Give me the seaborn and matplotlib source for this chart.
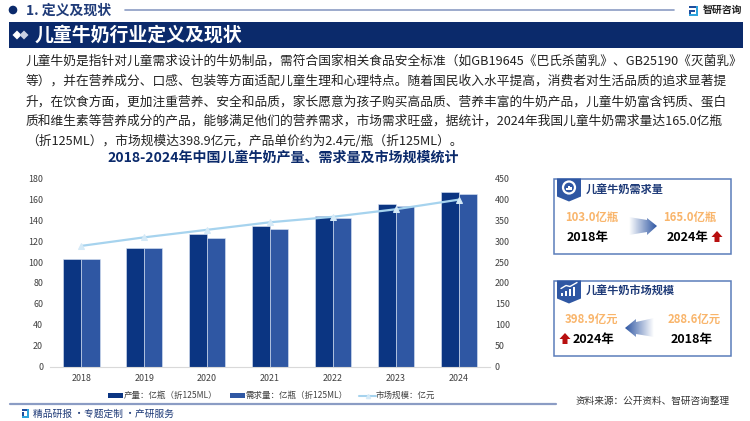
import numpy as np
import pandas as pd
import matplotlib
matplotlib.use("Agg")
import matplotlib.pyplot as plt
from matplotlib.patches import Rectangle, Polygon, Circle
from matplotlib.colors import LinearSegmentedColormap
import seaborn as sns

years = ["2018", "2019", "2020", "2021", "2022", "2023", "2024"]
production = [103, 113, 126.5, 134.5, 144, 155.5, 167]
demand = [103, 113, 122.5, 132, 142, 153.5, 165]
market = [288.6, 309, 327, 345, 358, 376, 398.9]
left_ticks = [0, 20, 40, 60, 80, 100, 120, 140, 160, 180]
right_ticks = [0, 50, 100, 150, 200, 250, 300, 350, 400, 450]
s_prod = "产量：亿瓶（折125ML）"
s_dem = "需求量：亿瓶（折125ML）"
s_mkt = "市场规模：亿元"
para = [
    "儿童牛奶是指针对儿童需求设计的牛奶制品，需符合国家相关食品安全标准（如GB19645《巴氏杀菌乳》、GB25190《灭菌乳》",
    "等），并在营养成分、口感、包装等方面适配儿童生理和心理特点。随着国民收入水平提高，消费者对生活品质的追求显著提",
    "升，在饮食方面，更加注重营养、安全和品质，家长愿意为孩子购买高品质、营养丰富的牛奶产品，儿童牛奶富含钙质、蛋白",
    "质和维生素等营养成分的产品，能够满足他们的营养需求，市场需求旺盛，据统计，2024年我国儿童牛奶需求量达165.0亿瓶",
    "（折125ML），市场规模达398.9亿元，产品单价约为2.4元/瓶（折125ML）。",
]

sns.set_theme(style="white")
plt.rcParams["font.family"] = ["Noto Sans CJK SC", "DejaVu Sans"]
plt.rcParams["axes.unicode_minus"] = False

W, H = 750, 421
fig = plt.figure(figsize=(7.5, 4.21), dpi=100, facecolor="white")

# overlay in pixel coordinates
ov = fig.add_axes([0, 0, 1, 1], zorder=0)
ov.set_xlim(0, W); ov.set_ylim(H, 0); ov.axis("off")

NAVY = "#0B2A6B"
C1 = "#0B3582"
C2 = "#2F57A3"
LINE = "#A6D3EE"
ORANGE = "#F9B56B"

# header
ov.add_patch(Circle((13, 10), 3.6, color=NAVY))
ov.text(26, 10.5, "1. 定义及现状", fontsize=10, fontweight="bold", color="#1F3B78", va="center")
ov.plot([125, 674], [10, 10], color="#8B9CC4", lw=1.2)
ov.add_patch(Rectangle((9, 22), 734, 26, color=NAVY, lw=0))
for cx, col in ((17, "white"), (24, "#C9D1E4")):
    ov.add_patch(Polygon([(cx - 4.5, 35), (cx, 30.5), (cx + 4.5, 35), (cx, 39.5)], color=col, lw=0))
ov.text(35, 35, "儿童牛奶行业定义及现状", fontsize=13.6, fontweight="bold", color="white", va="center")
# logo
ov.add_patch(Rectangle((689, 6), 9, 2, color="#1F4E9E", lw=0))
ov.add_patch(Rectangle((689, 10), 6, 2, color="#1F4E9E", lw=0))
ov.add_patch(Rectangle((689, 10), 2, 6, color="#1F4E9E", lw=0))
ov.add_patch(Rectangle((696, 6), 2, 10, color="#2EA3DC", lw=0))
ov.add_patch(Rectangle((689, 14), 9, 2, color="#2EA3DC", lw=0))
ov.text(703, 10, "智研咨询", fontsize=7.1, fontweight="bold", color="#222222", va="center")

# paragraph
for i, line in enumerate(para):
    ov.text(26, 61.5 + i * 20, line, fontsize=9.15, color="#222222", va="center")

ov.text(283, 158, "2018-2024年中国儿童牛奶产量、需求量及市场规模统计", fontsize=10.1,
        fontweight="bold", color=NAVY, va="center", ha="center")

# chart
x0, x1, ytop, ybot = 50, 490, 178.3, 366.7
ax = fig.add_axes([x0 / W, 1 - ybot / H, (x1 - x0) / W, (ybot - ytop) / H], zorder=2)
ax.patch.set_alpha(0)
df = pd.DataFrame({
    "year": years * 2,
    "value": production + demand,
    "series": [s_prod] * len(years) + [s_dem] * len(years),
})
sns.barplot(data=df, x="year", y="value", hue="series", hue_order=[s_prod, s_dem],
            palette=[C1, C2], width=0.575, gap=0, dodge=True, saturation=1,
            ax=ax, legend=False, edgecolor="#DCE6F5", linewidth=0.4)
ax.set_xlim(-0.5, 6.5)
ax.set_ylim(0, 180)
ax.set_yticks(left_ticks)
ax.set_xlabel(""); ax.set_ylabel("")
ax.tick_params(axis="both", length=0, labelsize=6.4, labelcolor="#404040")
ax.tick_params(axis="x", pad=5)
ax.tick_params(axis="y", pad=5)
for s in ("top", "left", "right"):
    ax.spines[s].set_visible(False)
ax.spines["bottom"].set_color("#D9D9D9")
ax.spines["bottom"].set_linewidth(0.8)

ax2 = ax.twinx()
sns.lineplot(x=list(range(len(years))), y=market, ax=ax2, color=LINE, lw=1.6,
             marker="^", markersize=5, markeredgecolor="#D5EAF7", markerfacecolor="#D5EAF7",
             legend=False, errorbar=None)
ax2.set_ylim(0, 450)
ax2.set_yticks(right_ticks)
ax2.set_ylabel("")
ax2.tick_params(axis="y", length=0, labelsize=6.4, labelcolor="#404040", pad=3.5)
for s in ("top", "left", "right", "bottom"):
    ax2.spines[s].set_visible(False)

# legend
ly = 395.5
ov.add_patch(Rectangle((108, ly - 2.5), 15, 5, color=C1, lw=0))
ov.text(124, ly, s_prod, fontsize=6.1, color="#404040", va="center")
ov.add_patch(Rectangle((230, ly - 2.5), 15, 5, color=C2, lw=0))
ov.text(246, ly, s_dem, fontsize=6.1, color="#404040", va="center")
ov.plot([359, 376], [ly, ly], color=LINE, lw=1.5)
ov.plot([367.5], [ly], marker="^", ms=3, color="#D5EAF7")
ov.text(376, ly, s_mkt, fontsize=6.1, color="#404040", va="center")

# footer rule + text
ov.plot([10, 556], [403.5, 403.5], color="#8B9CC4", lw=1.6)
ov.add_patch(Rectangle((22, 409), 7, 1.5, color="#1F4E9E", lw=0))
ov.add_patch(Rectangle((22, 412), 2, 6, color="#1F4E9E", lw=0))
ov.add_patch(Rectangle((27, 409), 2, 7, color="#2EA3DC", lw=0))
ov.add_patch(Rectangle((22, 416), 7, 1.5, color="#2EA3DC", lw=0))
ov.text(33, 413.5, "精品研报 ·专题定制 ·产研服务", fontsize=7.0, color="#1F3B78", va="center")
ov.text(576, 401, "资料来源：公开资料、智研咨询整理", fontsize=6.95, color="#333333", va="center")

cmap_r = LinearSegmentedColormap.from_list("g", ["#FFFFFF", "#2F57A3"])

def grad_arrow(pts, extent, reverse=False):
    g = np.linspace(0, 1, 64).reshape(1, -1)
    if reverse:
        g = g[:, ::-1]
    im = ov.imshow(g, extent=extent, cmap=cmap_r, aspect="auto", zorder=2, vmin=0, vmax=1)
    poly = Polygon(pts, transform=ov.transData, facecolor="none", edgecolor="none")
    ov.add_patch(poly)
    im.set_clip_path(poly)
    ov.set_xlim(0, W); ov.set_ylim(H, 0)

def up_arrow(cx, cy):
    ov.add_patch(Polygon([(cx - 5.5, cy), (cx, cy - 6), (cx + 5.5, cy), (cx + 2.5, cy),
                          (cx + 2.5, cy + 5), (cx - 2.5, cy + 5), (cx - 2.5, cy)],
                         color="#B80F0F", lw=0, zorder=3))

def panel(top, bottom, title):
    ov.add_patch(Rectangle((553.5, top), 177, bottom - top, facecolor="white",
                           edgecolor="#5B7DBB", lw=1.1))
    pts = [(557, top), (581, top), (581, top + 18), (569, top + 23), (557, top + 18)]
    ov.add_patch(Polygon(pts, color="#2F57A3", lw=0, zorder=3))
    ov.text(586, top + 10.5, title, fontsize=8.0, fontweight="bold", color="#1F3B78",
            va="center", zorder=3)

# panel 1
panel(178.5, 253.5, "儿童牛奶需求量")
t = 178.5
ov.add_patch(Circle((569, t + 9), 6, facecolor="none", edgecolor="white", lw=1.6, zorder=4))
for dx, hh in ((-2, 2), (0, 4), (2, 3)):
    ov.add_patch(Rectangle((569 + dx - 0.6, t + 11.5 - hh), 1.2, hh, color="white", lw=0, zorder=4))
ov.text(592, 218, "103.0亿瓶", fontsize=8.2, color=ORANGE, fontweight="bold", ha="center", va="center")
ov.text(588, 237.5, "2018年", fontsize=9, color="black", fontweight="bold", ha="center", va="center")
ov.text(690, 218, "165.0亿瓶", fontsize=8.2, color=ORANGE, fontweight="bold", ha="center", va="center")
ov.text(688, 237.5, "2024年", fontsize=9, color="black", fontweight="bold", ha="center", va="center")
up_arrow(717, 237)
grad_arrow([(629, 217), (647, 220), (647, 218), (657, 226), (647, 235), (647, 232), (629, 235)],
           [629, 657, 236, 216])

# panel 2
panel(280.5, 356, "儿童牛奶市场规模")
t = 280.5
for dx, hh in ((-7, 3), (-3, 5), (1, 7), (5, 9)):
    ov.add_patch(Rectangle((569 + dx - 1, t + 15 - hh), 2.4, hh, color="white", lw=0, zorder=4))
ov.plot([561, 566, 570, 577], [t + 8, t + 5, t + 6, t + 2], color="white", lw=1, zorder=4)
ov.text(591.5, 320.5, "398.9亿元", fontsize=8.2, color=ORANGE, fontweight="bold", ha="center", va="center")
ov.text(594, 339.5, "2024年", fontsize=9, color="black", fontweight="bold", ha="center", va="center")
ov.text(694, 320.5, "288.6亿元", fontsize=8.2, color=ORANGE, fontweight="bold", ha="center", va="center")
ov.text(692, 339.5, "2018年", fontsize=9, color="black", fontweight="bold", ha="center", va="center")
up_arrow(565, 339)
grad_arrow([(654, 318), (636, 322), (636, 319), (625, 328), (636, 337), (636, 334), (654, 337)],
           [625, 654, 338, 317], reverse=True)

fig.savefig("out.png", dpi=100)
